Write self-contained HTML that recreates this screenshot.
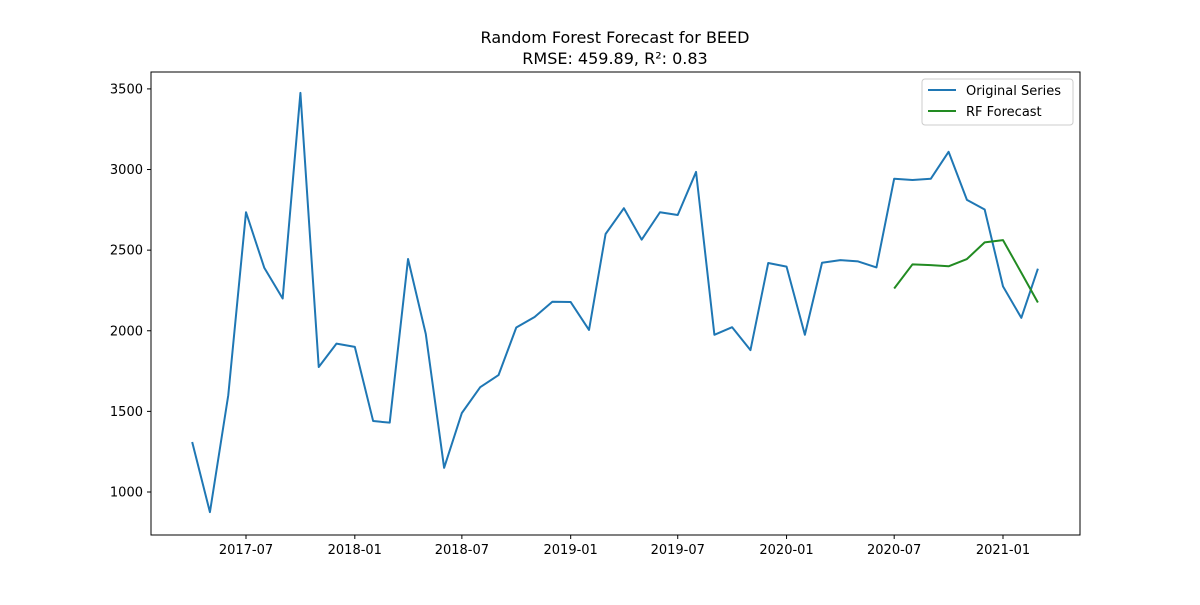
<!DOCTYPE html>
<html><head><meta charset="utf-8"><style>
body{margin:0;background:#fff;font-family:"Liberation Sans","DejaVu Sans",sans-serif}
svg text{font-family:"DejaVu Sans","Liberation Sans",sans-serif}
</style></head><body>
<svg id="c" width="1200" height="600"></svg>
<script>
const months=["2017-04","2017-05","2017-06","2017-07","2017-08","2017-09","2017-10","2017-11","2017-12","2018-01","2018-02","2018-03","2018-04","2018-05","2018-06","2018-07","2018-08","2018-09","2018-10","2018-11","2018-12","2019-01","2019-02","2019-03","2019-04","2019-05","2019-06","2019-07","2019-08","2019-09","2019-10","2019-11","2019-12","2020-01","2020-02","2020-03","2020-04","2020-05","2020-06","2020-07","2020-08","2020-09","2020-10","2020-11","2020-12","2021-01","2021-02","2021-03"];
const original=[1310,875,1600,2735,2390,2200,3475,1775,1920,1900,1440,1430,2445,1980,1150,1490,1650,1725,2020,2085,2180,2178,2005,2600,2760,2565,2735,2718,2985,1975,2022,1880,2420,2398,1975,2422,2438,2430,2393,2943,2935,2943,3110,2812,2752,2275,2080,2385];
const forecastMonths=["2020-07","2020-08","2020-09","2020-10","2020-11","2020-12","2021-01","2021-02","2021-03"];
const forecast=[2262,2412,2407,2400,2445,2548,2562,2360,2175];
const yTicks=[1000,1500,2000,2500,3000,3500];
const xTicks=["2017-07","2018-01","2018-07","2019-01","2019-07","2020-01","2020-07","2021-01"];

const NS="http://www.w3.org/2000/svg",svg=document.getElementById('c');
function mk(t,a,p){const e=document.createElementNS(NS,t);for(const k in a)e.setAttribute(k,a[k]);(p||svg).appendChild(e);return e;}
const d0=Date.UTC(2017,6,1),d1=Date.UTC(2021,0,1);
function x(m){const [y,mo]=m.split('-').map(Number);return 246+(Date.UTC(y,mo-1,1)-d0)/(d1-d0)*757;}
function y(v){return 492-(v-1000)*0.16124;}
const L=151,R=1080,T=72,B=535;
let t=mk('text',{x:615,y:43,'text-anchor':'middle','font-size':16});t.textContent='Random Forest Forecast for BEED';


t=mk('text',{x:615,y:64,'text-anchor':'middle','font-size':16});t.textContent='RMSE: 459.89, R²: 0.83';


yTicks.forEach(v=>{const g=mk('g',{});


mk('line',{x1:L-4,x2:L,y1:y(v),y2:y(v),stroke:'#000'},g);
const s=mk('text',{x:L-8,y:y(v)+4.5,'text-anchor':'end','font-size':13},g);s.textContent=v;});
xTicks.forEach(m=>{const g=mk('g',{});


mk('line',{x1:x(m),x2:x(m),y1:B,y2:B+4,stroke:'#000'},g);
const s=mk('text',{x:x(m),y:B+19,'text-anchor':'middle','font-size':13},g);s.textContent=m;});
let p=mk('polyline',{points:original.map((v,i)=>x(months[i])+','+y(v)).join(' '),fill:'none',stroke:'#1f77b4','stroke-width':2,'stroke-linejoin':'round'});


p=mk('polyline',{points:forecast.map((v,i)=>x(forecastMonths[i])+','+y(v)).join(' '),fill:'none',stroke:'#228b22','stroke-width':2,'stroke-linejoin':'round'});


const fr=mk('rect',{x:L,y:T,width:R-L,height:B-T,fill:'none',stroke:'#000','stroke-width':1});


const lg=mk('g',{});


mk('rect',{x:922,y:79,width:151,height:46,rx:3,fill:'#fff',stroke:'#ccc'},lg);
mk('line',{x1:928,x2:956,y1:90,y2:90,stroke:'#1f77b4','stroke-width':2},lg);
let s=mk('text',{x:966,y:95,'font-size':13},lg);s.textContent='Original Series';
mk('line',{x1:928,x2:956,y1:111,y2:111,stroke:'#228b22','stroke-width':2},lg);
s=mk('text',{x:966,y:116,'font-size':13},lg);s.textContent='RF Forecast';
</script>
</body></html>
